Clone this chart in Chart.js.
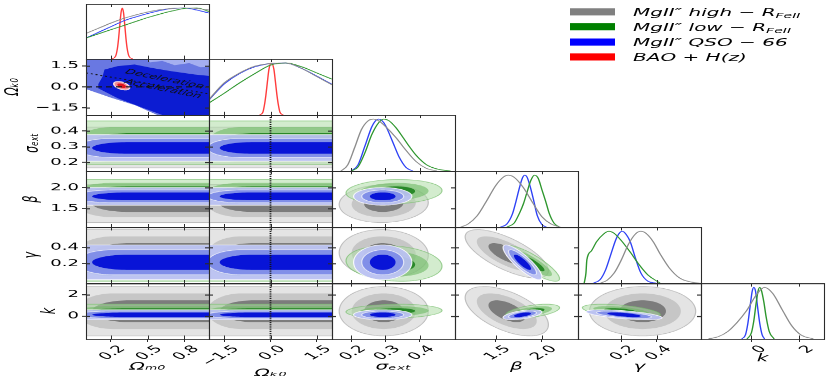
<!DOCTYPE html>
<html><head><meta charset="utf-8">
<script src="https://cdn.jsdelivr.net/npm/chart.js@4.4.1/dist/chart.umd.min.js"></script>
<style>
html,body{margin:0;padding:0;background:#fff;}
body{width:831px;height:382px;overflow:hidden;position:relative;}
#fig{position:absolute;left:0;top:0;width:831px;height:695px;transform:scaleY(0.55);transform-origin:0 0;}
#fig canvas{position:absolute;}
#legend{position:absolute;left:570px;top:8px;font-family:'DejaVu Sans',sans-serif;font-style:italic;font-size:20px;color:#000;}
.li{height:27.3px;display:flex;align-items:center;white-space:nowrap;}
.sw{display:inline-block;width:45px;height:13px;margin-right:18px;flex:none;}
.li sub{font-size:0.7em;vertical-align:-0.3em;line-height:0;}
</style></head>
<body><div id="fig"><div id="legend"></div></div>
<script>
// ================= DATA =================
const seriesLabels = ['MgII″ high − R', 'MgII″ low − R', 'MgII″ QSO − 66', 'BAO + H(z)'];
const seriesSubs   = ['FeII', 'FeII', '', ''];
const axisTitles = ['Ωₘ₀', 'Ωₖ₀', 'σₑₓₜ', 'β', 'γ', 'k'];
const axisMin = [0, -2, 0.144, 1.06, -0.045, -2.12];
const axisMax = [1, 2, 0.503, 2.39, 0.65, 3.05];
const tickValues = [[0.2, 0.5, 0.8], [-1.5, 0, 1.5], [0.2, 0.3, 0.4], [1.5, 2.0], [0.2, 0.4], [0, 2]];
const tickLabels = [['0.2', '0.5', '0.8'], ['−1.5', '0.0', '1.5'], ['0.2', '0.3', '0.4'], ['1.5', '2.0'], ['0.2', '0.4'], ['0', '2']];

// 1D marginals (relative probability, peak = 1)
const omX     = [0, 0.1, 0.2, 0.3, 0.4, 0.5, 0.6, 0.7, 0.8, 0.9, 1.0];
const omGray  = [0.50, 0.60, 0.70, 0.79, 0.86, 0.92, 0.965, 0.99, 1.0, 0.99, 0.96];
const omGreen = [0.41, 0.49, 0.57, 0.65, 0.73, 0.81, 0.88, 0.94, 0.99, 1.0, 0.93];
const omBlue  = [0.41, 0.52, 0.63, 0.74, 0.82, 0.89, 0.95, 0.99, 1.0, 0.96, 0.90];
const omRedX  = [0.21, 0.24, 0.255, 0.265, 0.275, 0.285, 0.295, 0.305, 0.315, 0.325, 0.335, 0.35, 0.38];
const omRed   = [0, 0.05, 0.2, 0.4, 0.67, 0.91, 1.0, 0.91, 0.67, 0.4, 0.2, 0.05, 0];

const okX     = [-2, -1.5, -1, -0.5, 0, 0.5, 1, 1.5, 2];
const okGray  = [0.30, 0.62, 0.81, 0.94, 0.99, 1.0, 0.9, 0.74, 0.58];
const okGreen = [0.23, 0.42, 0.62, 0.8, 0.96, 1.0, 0.93, 0.81, 0.69];
const okBlue  = [0.29, 0.6, 0.8, 0.93, 0.99, 1.0, 0.9, 0.75, 0.59];
const okRedX  = [-0.35, -0.25, -0.2, -0.15, -0.1, -0.05, 0.03, 0.11, 0.16, 0.21, 0.26, 0.31, 0.41];
const okRed   = [0, 0.05, 0.18, 0.38, 0.64, 0.88, 1.0, 0.88, 0.64, 0.38, 0.18, 0.05, 0];

const sigGrayX  = [0.17, 0.19, 0.21, 0.23, 0.25, 0.265, 0.28, 0.30, 0.33, 0.36, 0.39, 0.42, 0.45];
const sigGray   = [0.0, 0.12, 0.45, 0.8, 0.97, 1.0, 0.97, 0.86, 0.65, 0.4, 0.18, 0.05, 0.0];
const sigGreenX = [0.2, 0.22, 0.24, 0.26, 0.28, 0.295, 0.31, 0.33, 0.35, 0.37, 0.39, 0.42, 0.45, 0.49];
const sigGreen  = [0.0, 0.08, 0.35, 0.7, 0.93, 1.0, 0.97, 0.84, 0.66, 0.47, 0.3, 0.12, 0.04, 0.0];
const sigBlueX  = [0.2, 0.22, 0.24, 0.26, 0.27, 0.28, 0.29, 0.30, 0.32, 0.34, 0.36, 0.38];
const sigBlue   = [0.0, 0.12, 0.48, 0.85, 0.96, 1.0, 0.97, 0.88, 0.58, 0.27, 0.07, 0.0];

const betaGrayX  = [1.12, 1.2, 1.3, 1.4, 1.5, 1.58, 1.635, 1.7, 1.8, 1.9, 2.0, 2.1, 2.2];
const betaGray   = [0.0, 0.06, 0.22, 0.5, 0.8, 0.96, 1.0, 0.96, 0.76, 0.47, 0.2, 0.06, 0.0];
const betaGreenX = [1.62, 1.7, 1.76, 1.8, 1.84, 1.88, 1.92, 1.96, 2.0, 2.04, 2.08, 2.13, 2.19];
const betaGreen  = [0.0, 0.08, 0.28, 0.45, 0.68, 0.9, 1.0, 0.94, 0.72, 0.5, 0.26, 0.08, 0.0];
const betaBlueX  = [1.55, 1.62, 1.68, 1.72, 1.76, 1.79, 1.815, 1.84, 1.87, 1.91, 1.95, 2.0, 2.05];
const betaBlue   = [0.0, 0.06, 0.25, 0.5, 0.78, 0.95, 1.0, 0.96, 0.8, 0.52, 0.22, 0.05, 0.0];

const gamGrayX  = [0.08, 0.12, 0.16, 0.2, 0.24, 0.28, 0.31, 0.34, 0.38, 0.42, 0.47, 0.53, 0.6, 0.65];
const gamGray   = [0.0, 0.06, 0.2, 0.45, 0.75, 0.95, 1.0, 0.96, 0.8, 0.56, 0.3, 0.1, 0.02, 0.0];
const gamGreenX = [-0.01, 0.0, 0.005, 0.03, 0.06, 0.1, 0.13, 0.16, 0.2, 0.25, 0.3, 0.35, 0.42];
const gamGreen  = [0.0, 0.2, 0.45, 0.62, 0.8, 0.95, 1.0, 0.96, 0.82, 0.6, 0.36, 0.16, 0.0];
const gamBlueX  = [0.04, 0.08, 0.11, 0.14, 0.17, 0.19, 0.205, 0.22, 0.25, 0.28, 0.31, 0.35, 0.4];
const gamBlue   = [0.0, 0.07, 0.25, 0.55, 0.85, 0.97, 1.0, 0.97, 0.8, 0.48, 0.2, 0.04, 0.0];

const kGrayX  = [-1.8, -1.4, -1.0, -0.6, -0.2, 0.2, 0.55, 0.9, 1.3, 1.7, 2.1, 2.6];
const kGray   = [0.0, 0.04, 0.14, 0.32, 0.55, 0.85, 1.0, 0.88, 0.56, 0.25, 0.07, 0.0];
const kGreenX = [-0.18, 0.0, 0.1, 0.2, 0.28, 0.35, 0.42, 0.52, 0.62, 0.75, 0.95];
const kGreen  = [0.0, 0.12, 0.35, 0.7, 0.93, 1.0, 0.94, 0.72, 0.42, 0.14, 0.0];
const kBlueX  = [-0.4, -0.25, -0.15, -0.05, 0.03, 0.1, 0.17, 0.25, 0.35, 0.45, 0.55];
const kBlue   = [0.0, 0.08, 0.3, 0.65, 0.92, 1.0, 0.93, 0.65, 0.3, 0.08, 0.0];

// 2D contour summaries: centre and outer half-width per parameter (index 2..5)
const grayCenter  = [null, null, 0.295, 1.62, 0.32, 0.45];
const grayHalf    = [null, null, 0.13, 0.45, 0.3, 2.3];
const greenCenter = [null, null, 0.325, 1.9, 0.2, 0.45];
const greenHalf   = [null, null, 0.14, 0.29, 0.22, 0.65];
const blueCenter  = [null, null, 0.292, 1.79, 0.215, 0.12];
const blueHalf    = [null, null, 0.085, 0.21, 0.215, 0.47];
// correlations per panel [gray, green, blue]
const corrBetaSig  = [0.05, 0.1, 0.0];
const corrGamSig   = [-0.05, -0.15, 0.0];
const corrKSig     = [0.0, 0.1, 0.0];
const corrGamBeta  = [-0.7, -0.85, -0.85];
const corrKBeta    = [-0.55, 0.5, 0.55];
const corrKGam     = [0.0, -0.5, -0.6];
// left ends of the bands in the Omega columns [outer, middle, inner]
const omBandTips = [-0.4, -0.08, 0.05];
const okBandTips = [-3.0, -2.05, -1.65];

// Omega_k0 vs Omega_m0 panel
const okomLightX = [-0.1, 1.1, 1.1, 0.58, 0.4, 0.2, 0, -0.1];
const okomLightY = [2.5, 2.5, -2.5, -2, -1.3, -0.75, -0.15, 0.15];
const okomMidX = [-0.1, 0.45, 0.52, 0.62, 0.72, 0.84, 0.93, 1.1, 1.1, 0.58, 0.4, 0.2, 0, -0.1];
const okomMidY = [2.5, 2.5, 1.75, 1.85, 1.55, 1.7, 1.4, 1.45, -2.5, -2, -1.3, -0.75, -0.15, 0.15];
const okomDarkX = [0.135, 0.15, 0.257, 0.395, 0.53, 0.695, 0.885, 1.1, 1.1, 0.62, 0.45, 0.257, 0.1, 0.1];
const okomDarkY = [0.75, 1.24, 1.48, 1.6, 1.36, 1.12, 0.88, 0.7, -2.5, -2, -1.45, -0.8, -0.1, 0.2];
const redCenter = [0.29, 0.085];
const redHalf = [0.064, 0.3];
const redCorr = -0.45;
const decelX = [0, 1];
const decelY = [1, -0.5];
const flatX = [0, 1];
const flatY = [0, 0];
const zeroK = [0, 0];

// ================= LAYOUT / STYLE =================
const FIG_H = 695;
const COLS = [86, 209, 332, 455, 578, 701, 824];
const ROWS = [7, 107, 209, 311, 413, 515, 616];
const FONT = "'DejaVu Sans', sans-serif";
const LEVELS = [1, 0.72, 0.44];
const xTitlePad = [15.8, 4.3, 15.8, 15.8, 15.8, 31.6];
const yTitlePad = [0, 1, 21, 20, 20, 38];
const CURVE_COLORS = ['rgb(140,140,140)', 'rgb(45,150,45)', 'rgb(45,65,245)', 'rgb(255,60,60)'];
const LEGEND_COLORS = ['#808080', '#008000', '#0000ff', '#ff0000'];
const FILLS = [
  ['#e4e4e4', '#c6c6c6', '#7c7c7c'],
  ['rgba(175,220,165,0.55)', 'rgba(110,185,100,0.6)', 'rgba(30,130,30,0.9)'],
  ['rgba(188,194,245,0.93)', 'rgba(125,140,232,0.95)', 'rgb(8,20,215)']
];
const STROKES = [
  ['rgba(185,185,185,0.9)', null, null],
  ['rgba(120,190,110,0.7)', null, null],
  ['rgba(255,255,255,0.85)', 'rgba(255,255,255,0.7)', null]
];
const centers = [grayCenter, greenCenter, blueCenter];
const halves = [grayHalf, greenHalf, blueHalf];
const corrs = { '3,2': corrBetaSig, '4,2': corrGamSig, '5,2': corrKSig, '4,3': corrGamBeta, '5,3': corrKBeta, '5,4': corrKGam };
const marginals = [
  [[omX, omGray], [omX, omGreen], [omX, omBlue], [omRedX, omRed]],
  [[okX, okGray], [okX, okGreen], [okX, okBlue], [okRedX, okRed]],
  [[sigGrayX, sigGray], [sigGreenX, sigGreen], [sigBlueX, sigBlue]],
  [[betaGrayX, betaGray], [betaGreenX, betaGreen], [betaBlueX, betaBlue]],
  [[gamGrayX, gamGray], [gamGreenX, gamGreen], [gamBlueX, gamBlue]],
  [[kGrayX, kGray], [kGreenX, kGreen], [kBlueX, kBlue]]
];

// legend
const legend = document.getElementById('legend');
seriesLabels.forEach((lab, i) => {
  const d = document.createElement('div'); d.className = 'li';
  const sw = document.createElement('span'); sw.className = 'sw'; sw.style.background = LEGEND_COLORS[i];
  d.appendChild(sw);
  const t = document.createElement('span'); t.textContent = lab;
  if (seriesSubs[i]) { const sb = document.createElement('sub'); sb.textContent = seriesSubs[i]; t.appendChild(sb); }
  d.appendChild(t);
  legend.appendChild(d);
});

// helpers
function ellipsePts(cx, cy, rx, ry, rho) {
  const xs = [], ys = [], s = Math.sqrt(1 - rho * rho);
  for (let i = 0; i < 96; i++) { const t = i / 96 * 2 * Math.PI; xs.push(cx + rx * Math.cos(t)); ys.push(cy + ry * (rho * Math.cos(t) + s * Math.sin(t))); }
  return [xs, ys];
}
function bandPts(tip, cap, far, cy, ry) {
  const xs = [far], ys = [cy + ry];
  for (let i = 0; i <= 48; i++) { const t = Math.PI / 2 + i / 48 * Math.PI; xs.push(tip + cap + cap * Math.cos(t)); ys.push(cy + ry * Math.sin(t)); }
  xs.push(far); ys.push(cy - ry);
  return [xs, ys];
}
function drawPoly(ctx, it, sx, sy) {
  ctx.beginPath();
  it.xs.forEach((x, i) => { const px = sx.getPixelForValue(x), py = sy.getPixelForValue(it.ys[i]); if (i) ctx.lineTo(px, py); else ctx.moveTo(px, py); });
  ctx.closePath();
  if (it.fill) { ctx.fillStyle = it.fill; ctx.fill(); }
  if (it.stroke) { ctx.strokeStyle = it.stroke; ctx.lineWidth = it.lw || 1.2; ctx.stroke(); }
}
function curve(xs, ys, color) {
  return { data: xs.map((x, i) => ({ x, y: ys[i] })), showLine: true, borderColor: color, borderWidth: 1.4,
    pointRadius: 0, cubicInterpolationMode: 'monotone', fill: false };
}
function refLine(xs, ys, dash, lw) {
  return { data: xs.map((x, i) => ({ x, y: ys[i] })), showLine: true, borderColor: '#151515', borderWidth: lw,
    borderDash: dash, pointRadius: 0, fill: false };
}
function xAxis(c, show, mb) {
  return {
    type: 'linear', bounds: 'data', min: axisMin[c], max: axisMax[c], display: show,
    afterBuildTicks: s => { s.ticks = tickValues[c].map(v => ({ value: v })); },
    afterFit: s => { if (show) s.height = mb; s.paddingLeft = 0; s.paddingRight = 0; s.paddingTop = 0; s.paddingBottom = 0; },
    grid: { drawOnChartArea: false, drawTicks: true, tickLength: 6, color: '#2b2b2b', lineWidth: 1 },
    border: { display: false },
    ticks: { autoSkip: false, maxRotation: 45, minRotation: 45, padding: 2, labelOffset: 12, color: '#000',
      font: { family: FONT, size: 18 }, callback: (v, i) => tickLabels[c][i] },
    title: { display: true, text: axisTitles[c], color: '#000', font: { family: FONT, size: 20, style: 'italic' },
      padding: { top: 0, bottom: xTitlePad[c] } }
  };
}
function yAxis(r, show, ml, is1D) {
  if (is1D) return { type: 'linear', bounds: 'data', min: 0, max: 1.08, display: false };
  return {
    type: 'linear', bounds: 'data', min: axisMin[r], max: axisMax[r], display: show,
    afterBuildTicks: s => { s.ticks = tickValues[r].map(v => ({ value: v })); },
    afterFit: s => { if (show) s.width = ml; s.paddingLeft = 0; s.paddingRight = 0; s.paddingTop = 0; s.paddingBottom = 0; },
    grid: { drawOnChartArea: false, drawTicks: true, tickLength: 4, color: '#2b2b2b', lineWidth: 1.8 },
    border: { display: false },
    ticks: { autoSkip: false, padding: 3, color: '#000', font: { family: FONT, size: 18 }, callback: (v, i) => tickLabels[r][i] },
    title: { display: true, text: axisTitles[r], color: '#000', font: { family: FONT, size: 20, style: 'italic' },
      padding: { top: yTitlePad[r], bottom: 0 } }
  };
}
function contourPlugin(items) {
  return { id: 'contours', beforeDatasetsDraw(chart) {
    const { ctx, chartArea: a, scales: { x, y } } = chart;
    ctx.save(); ctx.beginPath(); ctx.rect(a.left, a.top, a.right - a.left, a.bottom - a.top); ctx.clip();
    items.forEach(it => drawPoly(ctx, it, x, y));
    ctx.restore();
  } };
}
function framePlugin(is1D) {
  return { id: 'frame', afterDraw(chart) {
    const { ctx, chartArea: a, scales: { x, y } } = chart;
    const x0 = Math.round(a.left), x1 = Math.round(a.right), y0 = Math.round(a.top), y1 = Math.round(a.bottom);
    ctx.save(); ctx.strokeStyle = '#2b2b2b';
    ctx.lineWidth = 1.1; ctx.beginPath();
    ctx.moveTo(x0 + 0.5, y0); ctx.lineTo(x0 + 0.5, y1 + 1.8); ctx.moveTo(x1 + 0.5, y0); ctx.lineTo(x1 + 0.5, y1 + 1.8); ctx.stroke();
    ctx.lineWidth = 1.8; ctx.beginPath();
    ctx.moveTo(x0, y0 + 0.9); ctx.lineTo(x1 + 1, y0 + 0.9); ctx.moveTo(x0, y1 + 0.9); ctx.lineTo(x1 + 1, y1 + 0.9); ctx.stroke();
    ctx.lineWidth = 1; ctx.beginPath();
    x.ticks.forEach(t => { const px = Math.round(x.getPixelForValue(t.value)) + 0.5; ctx.moveTo(px, y1); ctx.lineTo(px, y1 - 6); ctx.moveTo(px, y0); ctx.lineTo(px, y0 + 6); });
    ctx.stroke();
    if (!is1D) {
      ctx.lineWidth = 1.8; ctx.beginPath();
      y.ticks.forEach(t => { const py = Math.round(y.getPixelForValue(t.value)) + 0.5; ctx.moveTo(x0, py); ctx.lineTo(x0 + 4, py); ctx.moveTo(x1, py); ctx.lineTo(x1 - 4, py); });
      ctx.stroke();
    }
    ctx.restore();
  } };
}
const annoPlugin = { id: 'anno', afterDatasetsDraw(chart) {
  const { ctx, chartArea: a, scales: { x, y } } = chart;
  ctx.save(); ctx.beginPath(); ctx.rect(a.left, a.top, a.right - a.left, a.bottom - a.top); ctx.clip();
  ctx.fillStyle = '#111'; ctx.font = "italic 13px 'DejaVu Sans'"; ctx.textAlign = 'center'; ctx.textBaseline = 'middle';
  [['Deceleration', 0.64, 0.55], ['Acceleration', 0.625, -0.15]].forEach(([t, vx, vy]) => {
    ctx.save(); ctx.translate(x.getPixelForValue(vx), y.getPixelForValue(vy)); ctx.rotate(20 * Math.PI / 180); ctx.fillText(t, 0, 0); ctx.restore();
  });
  ctx.restore();
} };

const fig = document.getElementById('fig');
function buildPanel(r, c) {
  const is1D = r === c, showY = c === 0 && r > 0, showX = r === 5;
  const L = COLS[c], R = COLS[c + 1], T = ROWS[r], B = ROWS[r + 1];
  const ml = showY ? L : (showX ? 40 : 3), mb = showX ? FIG_H - B : 3, mt = 3, mr = 3;
  const w = ml + (R - L) + mr, h = mt + (B - T) + mb;
  const cv = document.createElement('canvas');
  cv.width = w; cv.height = h;
  cv.style.left = (L - ml) + 'px'; cv.style.top = (T - mt) + 'px';
  cv.style.width = w + 'px'; cv.style.height = h + 'px';
  fig.appendChild(cv);

  const datasets = [], items = [], plugins = [];
  if (is1D) {
    marginals[r].forEach(([xs, ys], s) => datasets.push(curve(xs, ys, CURVE_COLORS[s])));
  } else if (c >= 2) {
    const cr = corrs[r + ',' + c];
    for (let s = 0; s < 3; s++) LEVELS.forEach((f, l) => {
      const [xs, ys] = ellipsePts(centers[s][c], centers[s][r], halves[s][c] * f, halves[s][r] * f, cr[s]);
      items.push({ xs, ys, fill: FILLS[s][l], stroke: STROKES[s][l] });
    });
  } else if (r >= 2) {
    const tips = c === 0 ? omBandTips : okBandTips, cap = c === 0 ? 0.3 : 1.1;
    for (let s = 0; s < 3; s++) LEVELS.forEach((f, l) => {
      const [xs, ys] = bandPts(tips[l], cap, axisMax[c] + 5, centers[s][r], halves[s][r] * f);
      items.push({ xs, ys, fill: FILLS[s][l], stroke: STROKES[s][l] });
    });
    if (c === 1) datasets.push(refLine(zeroK, [axisMin[r] - 1, axisMax[r] + 1], [2, 2], 1.8));
  } else {
    items.push({ xs: okomLightX, ys: okomLightY, fill: 'rgb(165,175,240)' });
    items.push({ xs: okomMidX, ys: okomMidY, fill: 'rgb(105,120,226)' });
    items.push({ xs: okomDarkX, ys: okomDarkY, fill: 'rgb(12,28,210)' });
    const [ox, oy] = ellipsePts(redCenter[0], redCenter[1], redHalf[0], redHalf[1], redCorr);
    items.push({ xs: ox, ys: oy, fill: 'rgb(245,140,150)', stroke: 'rgba(255,235,235,0.95)', lw: 1.6 });
    const [ix, iy] = ellipsePts(redCenter[0], redCenter[1], redHalf[0] * 0.55, redHalf[1] * 0.55, redCorr);
    items.push({ xs: ix, ys: iy, fill: 'rgb(225,20,30)' });
    datasets.push(refLine(flatX, flatY, [6, 4], 1.8));
    datasets.push(refLine(decelX, decelY, [2, 3], 1.8));
    plugins.push(annoPlugin);
  }
  plugins.unshift(contourPlugin(items));
  plugins.push(framePlugin(is1D));

  new Chart(cv, {
    type: 'scatter',
    data: { datasets },
    options: {
      responsive: false, animation: false, devicePixelRatio: 1,
      layout: { autoPadding: false, padding: { top: mt, right: mr, left: showY ? 0 : ml, bottom: showX ? 0 : mb } },
      plugins: { legend: { display: false }, tooltip: { enabled: false } },
      scales: { x: xAxis(c, showX, mb), y: yAxis(r, showY, ml, is1D) }
    },
    plugins
  });
}
for (let r = 0; r < 6; r++) for (let c = 0; c <= r; c++) buildPanel(r, c);
</script>
</body></html>
